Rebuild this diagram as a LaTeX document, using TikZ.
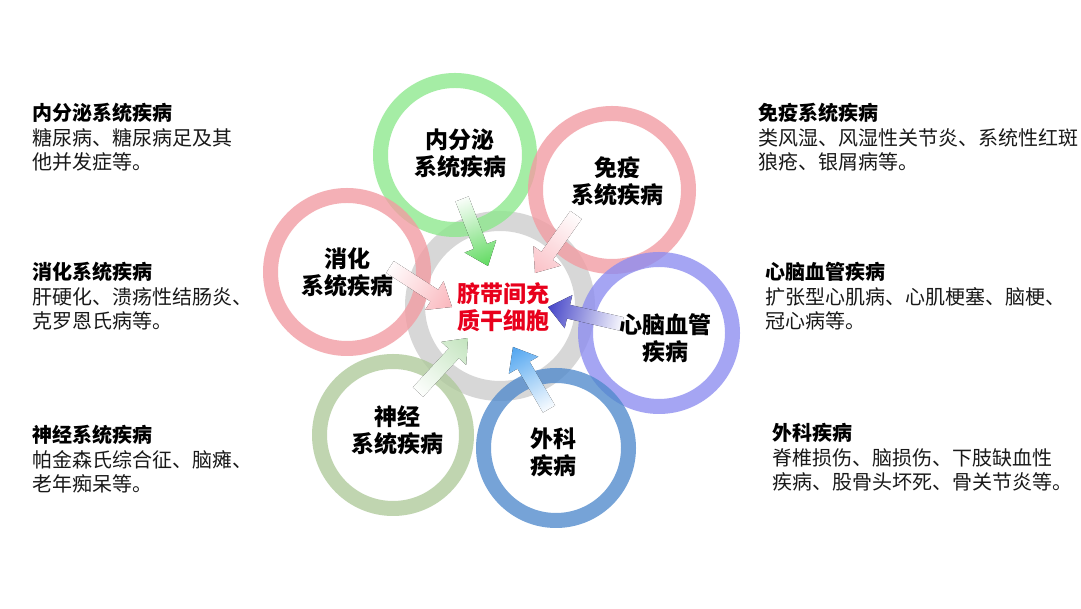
\documentclass[tikz,border=0pt]{standalone}
\usepackage{fontspec}
\setmainfont{Noto Sans CJK SC}
\usetikzlibrary{calc}
\definecolor{cGray}{RGB}{205,205,205}
\definecolor{cGreen}{RGB}{140,232,140}
\definecolor{cPink}{RGB}{242,155,162}
\definecolor{cPurple}{RGB}{140,140,240}
\definecolor{cBlue}{RGB}{80,138,204}
\definecolor{cSage}{RGB}{175,202,155}
\definecolor{aGreen}{RGB}{95,218,95}
\definecolor{aPinkA}{RGB}{250,192,198}
\definecolor{aPinkB}{RGB}{250,182,188}
\definecolor{aPurple}{RGB}{70,70,200}
\definecolor{aBlue}{RGB}{80,165,240}
\definecolor{aSage}{RGB}{195,228,190}
\definecolor{cRed}{RGB}{232,0,28}
\definecolor{cBody}{RGB}{25,25,25}
\newcommand\shadearrow[3]{%
  \path let \p1=($(#2)-(#1)$), \n1={atan2(\y1,\x1)}, \n2={veclen(\x1,\y1)} in
    \pgfextra{\pgfmathsetmacro\arrang{\n1}\global\let\arrang\arrang
              \pgfmathsetmacro\arrlen{\n2}\global\let\arrlen\arrlen};
  \begin{scope}[transform canvas={shift={(#1)},rotate=\arrang}]
    \fill[left color=#3!4, right color=#3]
      (0,-7) -- ({\arrlen-21},-7) -- ({\arrlen-21},-17) -- (\arrlen,0)
      -- ({\arrlen-21},17) -- ({\arrlen-21},7) -- (0,7) -- cycle;
  \end{scope}}
\begin{document}
\begin{tikzpicture}[x=1pt,y=1pt,
  ring/.style={circle, inner sep=0pt, outer sep=0pt, line width=15pt, draw opacity=0.78},
  ringtext/.style={font=\fontsize{23pt}{27pt}\selectfont\bfseries, align=center, inner sep=0pt},
  sidetitle/.style={font=\fontsize{20pt}{24.5pt}\selectfont\bfseries, anchor=base west, inner sep=0pt},
  sidebody/.style={font=\fontsize{20pt}{24.5pt}\selectfont, text=cBody, anchor=base west, align=left, inner sep=0pt}]
\useasboundingbox (0,0) rectangle (1081,609);
\fill[white] (0,0) rectangle (1081,609);

% rings
\node[ring, line width=20pt, draw=cGray, minimum size=170pt] (core) at (500,303) {};
\node[ring, draw=cGreen, minimum size=149pt] (endo) at (455,454) {};
\node[ring, draw=cPink, minimum size=153pt] (immu) at (612,419) {};
\node[ring, draw=cPink, minimum size=153pt] (dige) at (347,337) {};
\node[ring, draw=cPurple, minimum size=147pt] (card) at (659,276) {};
\node[ring, draw=cBlue, minimum size=145pt] (surg) at (556,161) {};
\node[ring, draw=cSage, minimum size=147pt] (neur) at (393,174) {};

% arrows
\coordinate (endoT) at (462,410); \coordinate (endoH) at (488,343);
\coordinate (immuT) at (576,394); \coordinate (immuH) at (535,336);
\coordinate (digeT) at (390,342); \coordinate (digeH) at (452,302);
\coordinate (cardT) at (622,285); \coordinate (cardH) at (548,302);
\coordinate (surgT) at (549,200); \coordinate (surgH) at (513,262);
\coordinate (neurT) at (418,217); \coordinate (neurH) at (468,271);
\shadearrow{endoT}{endoH}{aGreen}
\shadearrow{immuT}{immuH}{aPinkA}
\shadearrow{digeT}{digeH}{aPinkB}
\shadearrow{cardT}{cardH}{aPurple}
\shadearrow{surgT}{surgH}{aBlue}
\shadearrow{neurT}{neurH}{aSage}

% ring texts
\node[ringtext] (endoL) at (460,456) {内分泌\\系统疾病};
\node[ringtext] (immuL) at (617,428) {免疫\\系统疾病};
\node[ringtext] (digeL) at (347,337) {消化\\系统疾病};
\node[ringtext] (cardL) at (665,271) {心脑血管\\疾病};
\node[ringtext] (surgL) at (553,157) {外科\\疾病};
\node[ringtext] (neurL) at (397,179) {神经\\系统疾病};
\node[ringtext, text=cRed] (coreL) at (503,302) {脐带间充\\质干细胞};

% side texts left (multi-line nodes: base = last line)
\node[sidetitle] (t1) at (32,488) {内分泌系统疾病};
\node[sidebody] (b1) at (32,439) {糖尿病、糖尿病足及其\\他并发症等。};
\node[sidetitle] (t2) at (32,329) {消化系统疾病};
\node[sidebody] (b2) at (32,280) {肝硬化、溃疡性结肠炎、\\克罗恩氏病等。};
\node[sidetitle] (t3) at (32,166) {神经系统疾病};
\node[sidebody] (b3) at (32,117) {帕金森氏综合征、脑瘫、\\老年痴呆等。};
% side texts right
\node[sidetitle] (t4) at (758,488) {免疫系统疾病};
\node[sidebody] (b4) at (758,439) {类风湿、风湿性关节炎、系统性红斑\\狼疮、银屑病等。};
\node[sidetitle] (t5) at (765,329) {心脑血管疾病};
\node[sidebody] (b5) at (765,280) {扩张型心肌病、心肌梗塞、脑梗、\\冠心病等。};
\node[sidetitle] (t6) at (772,168) {外科疾病};
\node[sidebody] (b6) at (772,119) {脊椎损伤、脑损伤、下肢缺血性\\疾病、股骨头坏死、骨关节炎等。};
\end{tikzpicture}
\end{document}
